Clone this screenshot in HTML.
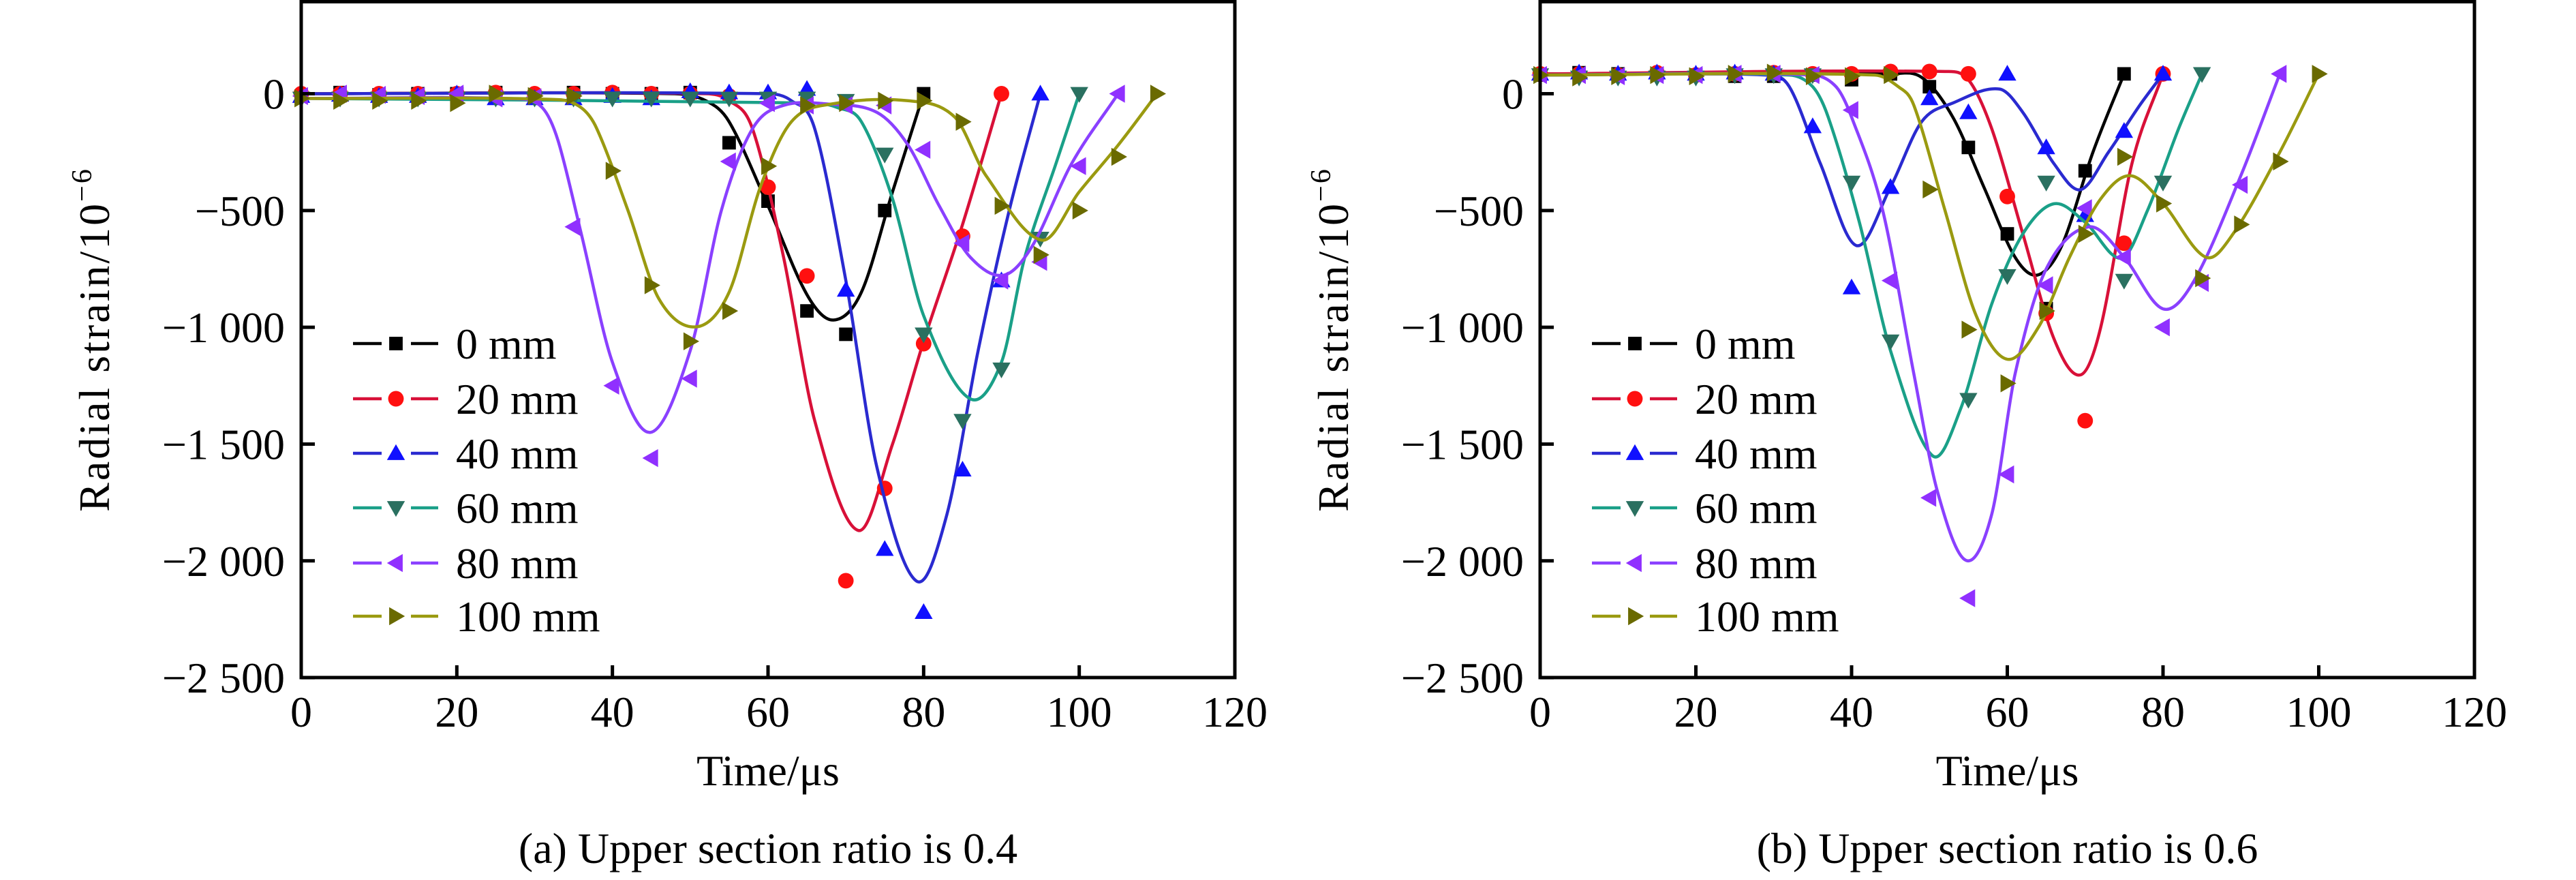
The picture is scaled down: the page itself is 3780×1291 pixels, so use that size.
<!DOCTYPE html>
<html><head><meta charset="utf-8"><style>
html,body{margin:0;padding:0;background:#fff;}
svg{display:block;font-family:"Liberation Serif",serif;}
</style></head><body>
<svg id="chart" width="3780" height="1291" viewBox="0 0 3780 1291" xmlns="http://www.w3.org/2000/svg"></svg>
<script>
// ---------- data ----------
const seriesNames = ["0 mm","20 mm","40 mm","60 mm","80 mm","100 mm"];
const xTicks = [0,20,40,60,80,100,120];
const yTicks = [0,-500,-1000,-1500,-2000,-2500];
const yTickLabels = ["0","\u2212500","\u22121 000","\u22121 500","\u22122 000","\u22122 500"];
const markerStep = 5;
// panel (a): marker values every 5 us starting at 0
const aMarkers0 = [-10,5,-5,0,0,5,-15,5,0,0,5,-210,-460,-930,-1030,-500,0];
const aMarkers20 = [0,0,0,0,0,5,0,0,5,0,0,-10,-400,-780,-2085,-1690,-1070,-610,0];
const aMarkers40 = [-10,-5,-10,-10,0,-20,-20,-20,-10,-20,10,5,5,20,-840,-1950,-2220,-1610,-800,0];
const aMarkers60 = [-20,-20,-20,-20,-20,-20,-20,-20,-20,-20,-20,-20,-20,-20,-30,-260,-1030,-1400,-1180,-620,0];
const aMarkers80 = [-10,0,-5,-10,0,-20,-15,-570,-1250,-1560,-1220,-290,-40,-50,-50,-50,-240,-640,-800,-720,-310,0];
const aMarkers100 = [-20,-30,-30,-30,-40,0,-10,-10,-330,-820,-1060,-930,-310,-50,-40,-30,-30,-120,-480,-690,-500,-270,0];
// panel (a): fitted curve control points [time, strain]
const aFit0 = [[0,0],[48,0],[52,-30],[55,-120],[60,-480],[65,-860],[68.4,-969],[72,-850],[76,-420],[80,0]];
const aFit20 = [[0,0],[52,0],[55,-30],[58,-150],[62,-700],[66,-1400],[71.6,-1870],[76,-1500],[80,-1060],[85,-560],[90,0]];
const aFit40 = [[0,0],[60,0],[63,-30],[66,-150],[70,-800],[74,-1600],[79.1,-2087],[83,-1800],[87,-1100],[91,-500],[95,0]];
const aFit60 = [[0,-20],[66,-40],[69,-60],[72,-120],[76,-450],[80,-950],[85.9,-1305],[90,-1150],[93,-700],[97,-300],[100,0]];
const aFit80 = [[0,-20],[28,-22],[31,-60],[33,-200],[36,-600],[40,-1150],[44.9,-1450],[50,-1100],[54,-500],[58,-150],[62,-50],[68,-45],[74,-80],[78,-220],[82,-480],[86,-700],[90.3,-777],[94,-650],[99,-300],[105,0]];
const aFit100 = [[0,-20],[33,-25],[36,-60],[38,-150],[42,-500],[46,-880],[50.8,-998],[55,-850],[59,-400],[63,-120],[68,-45],[78,-30],[84,-100],[88,-350],[95.2,-627],[100,-420],[105,-220],[110,0]];
// panel (b)
const bMarkers0 = [80,90,85,85,80,75,75,80,60,85,30,-230,-600,-920,-330,85];
const bMarkers20 = [85,85,80,90,80,85,90,85,85,95,95,85,-440,-940,-1400,-640,85];
const bMarkers40 = [85,90,85,90,85,90,85,-140,-830,-400,-20,-80,85,-230,-520,-160,85];
const bMarkers60 = [80,70,70,70,70,80,80,80,-380,-1060,null,-1310,-780,-380,null,-800,-380,85];
const bMarkers80 = [80,80,75,80,80,85,85,80,-70,-800,-1730,-2160,-1630,-820,-490,-700,-1000,-810,-390,85];
const bMarkers100 = [80,70,75,80,75,85,90,75,75,80,-410,-1010,-1240,-930,-600,-270,-470,-790,-560,-290,85];
const bFit0 = [[0,85],[45,85],[49,70],[53,-100],[57,-400],[61,-700],[63.9,-776],[67,-650],[71,-250],[75,85]];
const bFit20 = [[0,85],[52,95],[55,60],[58,-150],[62,-600],[66,-1050],[69.4,-1204],[72,-1000],[76,-300],[80,85]];
const bFit40 = [[0,80],[29,80],[32,30],[36,-300],[40.6,-650],[45,-400],[49,-120],[53,-40],[59,20],[62,-80],[66,-300],[69.4,-411],[73,-250],[77,-50],[80,85]];
const bFit60 = [[0,80],[32,80],[35,30],[37,-100],[41,-550],[45,-1100],[50.4,-1550],[54,-1350],[58,-900],[62,-600],[66,-471],[70,-550],[74.7,-704],[78,-500],[82,-150],[85,85]];
const bFit80 = [[0,80],[35,80],[38,30],[40,-100],[44,-500],[48,-1200],[51,-1700],[54.7,-1998],[58,-1800],[61,-1200],[65,-750],[70.5,-570],[75,-700],[80,-921],[84,-800],[90,-350],[95,85]];
const bFit100 = [[0,80],[43,80],[46,30],[48,-50],[52,-500],[56,-950],[60,-1137],[64,-1000],[68,-700],[72,-450],[75.8,-351],[80,-470],[85.5,-700],[89,-600],[95,-250],[100,85]];

const lineColors = ["#000000","#d81038","#2a2ad0","#1aa088","#8a40ff","#9a9a10"];
const markColors = ["#000000","#ff1010","#1010ff","#2a7060","#9030ff","#6a6a00"];
const markShapes = ["square","circle","up","down","left","right"];

const NS = "http://www.w3.org/2000/svg";
const svg = document.getElementById("chart");
function mk(tag, attrs, parent){
  const e = document.createElementNS(NS, tag);
  for (const k in attrs) e.setAttribute(k, attrs[k]);
  (parent||svg).appendChild(e);
  return e;
}
function yScale(v){ return 137.5 - v*0.34264; }
const Y_TOP = 2.5, Y_BOT = 994;

// cubic Hermite in x (pixel space), no kinks for uneven spacing
function splinePath(pts){
  const n = pts.length, m = [];
  for (let i=0;i<n;i++){
    if (i===0) m.push((pts[1][1]-pts[0][1])/(pts[1][0]-pts[0][0]));
    else if (i===n-1) m.push((pts[n-1][1]-pts[n-2][1])/(pts[n-1][0]-pts[n-2][0]));
    else m.push((pts[i+1][1]-pts[i-1][1])/(pts[i+1][0]-pts[i-1][0]));
  }
  let d = "M"+pts[0][0].toFixed(1)+","+pts[0][1].toFixed(1);
  for (let i=0;i<n-1;i++){
    const h = pts[i+1][0]-pts[i][0];
    const c1x = pts[i][0]+h/3, c1y = pts[i][1]+m[i]*h/3;
    const c2x = pts[i+1][0]-h/3, c2y = pts[i+1][1]-m[i+1]*h/3;
    d += " C"+c1x.toFixed(1)+","+c1y.toFixed(1)+" "+c2x.toFixed(1)+","+c2y.toFixed(1)+" "+pts[i+1][0].toFixed(1)+","+pts[i+1][1].toFixed(1);
  }
  return d;
}
function marker(g, shape, cx, cy, color, s){
  let e;
  if (shape==="square") e = mk("rect",{x:cx-s*0.45,y:cy-s*0.45,width:s*0.9,height:s*0.9,fill:color},g);
  else if (shape==="circle") e = mk("circle",{cx:cx,cy:cy,r:s*0.52,fill:color},g);
  else {
    let p;
    if (shape==="up") p=[[cx,cy-s*0.6],[cx-s*0.6,cy+s*0.45],[cx+s*0.6,cy+s*0.45]];
    if (shape==="down") p=[[cx,cy+s*0.6],[cx-s*0.6,cy-s*0.45],[cx+s*0.6,cy-s*0.45]];
    if (shape==="left") p=[[cx-s*0.6,cy],[cx+s*0.45,cy-s*0.6],[cx+s*0.45,cy+s*0.6]];
    if (shape==="right") p=[[cx+s*0.6,cy],[cx-s*0.45,cy-s*0.6],[cx-s*0.45,cy+s*0.6]];
    e = mk("polygon",{points:p.map(q=>q.join(",")).join(" "),fill:color},g);
  }
  return e;
}

function panel(id, x0, x1, markers, fits, caption, labelRight, titleX, legX){
  const g = mk("g",{});
  
  
  const xs = v => x0 + (v/120)*(x1-x0);
  for (let s=0;s<6;s++){
    const sg = mk("g",{},g);
    
    
    const path = mk("path",{d:splinePath(fits[s].map(p=>[xs(p[0]),yScale(p[1])])),fill:"none",stroke:lineColors[s],"stroke-width":4.5},sg);
    
    
    markers[s].forEach((v,i)=>{
      if (v===null) return;
      const mm = marker(sg, markShapes[s], xs(i*markerStep), yScale(v), markColors[s], 22);
      
      
    });
  }
  const fr = mk("rect",{x:x0,y:Y_TOP,width:x1-x0,height:Y_BOT-Y_TOP,fill:"none",stroke:"#000","stroke-width":5},g);
  
  
  yTicks.forEach((v,i)=>{
    const y = yScale(v);
    const t = mk("line",{x1:x0,x2:x0+20,y1:y,y2:y,stroke:"#000","stroke-width":5},g);
    
    
    const l = mk("text",{x:labelRight,y:y+22,"text-anchor":"end","font-size":64},g);
    l.textContent = yTickLabels[i];
    
    
  });
  xTicks.forEach(v=>{
    const x = xs(v);
    const t = mk("line",{x1:x,x2:x,y1:Y_BOT,y2:Y_BOT-18,stroke:"#000","stroke-width":5},g);
    
    
    const l = mk("text",{x:x,y:1066,"text-anchor":"middle","font-size":64},g);
    l.textContent = String(v);
    
    
  });
  const xt = mk("text",{x:(x0+x1)/2,y:1152,"text-anchor":"middle","font-size":64},g);
  xt.textContent = "Time/\u03bcs";
  
  
  const yt = mk("text",{x:0,y:0,"text-anchor":"middle","font-size":64,"letter-spacing":3,transform:"translate("+titleX+",498) rotate(-90)"},g);
  yt.textContent = "Radial strain/10";
  const sup = mk("tspan",{dy:-26,"font-size":42},yt);
  sup.textContent = "\u22126";
  
  
  const cap = mk("text",{x:(x0+x1)/2,y:1266,"text-anchor":"middle","font-size":64},g);
  cap.textContent = caption;
  
  
  const lg = mk("g",{},g);
  
  
  const legY = [504,585,665,745,826,904];
  for (let s=0;s<6;s++){
    const eg = mk("g",{},lg);
    
    
    const y = legY[s];
    mk("line",{x1:legX,x2:legX+42,y1:y,y2:y,stroke:lineColors[s],"stroke-width":4.5},eg);
    mk("line",{x1:legX+85,x2:legX+125,y1:y,y2:y,stroke:lineColors[s],"stroke-width":4.5},eg);
    marker(eg, markShapes[s], legX+63, y, markColors[s], 22);
    const t = mk("text",{x:legX+151,y:y+22,"font-size":64},eg);
    t.textContent = seriesNames[s];
  }
}
panel("panel-a", 442, 1812,
  [aMarkers0,aMarkers20,aMarkers40,aMarkers60,aMarkers80,aMarkers100],
  [aFit0,aFit20,aFit40,aFit60,aFit80,aFit100],
  "(a) Upper section ratio is 0.4", 418, 160, 518);
panel("panel-b", 2260, 3631,
  [bMarkers0,bMarkers20,bMarkers40,bMarkers60,bMarkers80,bMarkers100],
  [bFit0,bFit20,bFit40,bFit60,bFit80,bFit100],
  "(b) Upper section ratio is 0.6", 2236, 1978, 2336);
</script>
</body></html>
